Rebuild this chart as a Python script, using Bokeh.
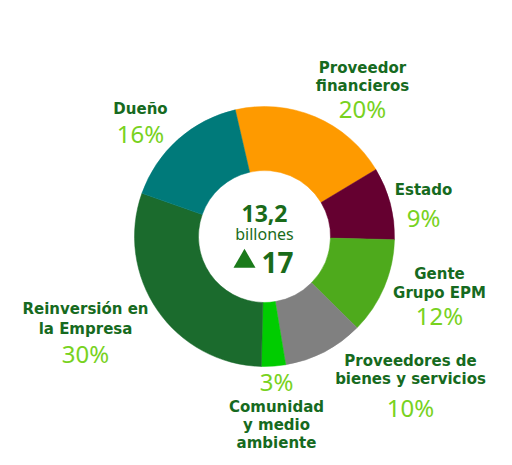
import math
from bokeh.plotting import figure
from bokeh.models import Range1d, ColumnDataSource
from bokeh.core.properties import value
from bokeh.embed import file_html
from bokeh.resources import INLINE

# ---- data ----
categories = ["Proveedor financieros", "Estado", "Gente Grupo EPM",
              "Proveedores de bienes y servicios", "Comunidad y medio ambiente",
              "Reinversión en la Empresa", "Dueño"]
shares = [20, 9, 12, 10, 3, 30, 16]
colors = ["#FE9A00", "#650030", "#4EAA1C", "#808080", "#00CC00", "#1B6B2D", "#007A7A"]
label_lines = [["Proveedor", "financieros"], ["Estado"], ["Gente", "Grupo EPM"],
               ["Proveedores de", "bienes y servicios"], ["Comunidad", "y medio", "ambiente"],
               ["Reinversión en", "la Empresa"], ["Dueño"]]
total_text = "13,2"
unit_text = "billones"
growth_text = "17"

# ---- layout (image pixel coords, y downward) ----
W, H = 496, 457
IMG_H = 465
cx, cy = 264, 236
r_in, r_out = 66, 130
start_deg = 103
# label anchor: (x, y of first line, line step, y of percent)
label_pos = [(362, 67, 18, 108), (423, 189, 18, 217), (439, 273, 19, 315),
             (410, 360, 18, 407), (276, 406, 18, 381), (85, 308, 20, 353),
             (140, 108, 18, 133)]

def fy(y):
    return IMG_H - y

p = figure(width=W, height=H, output_backend="svg", toolbar_location=None,
           x_range=Range1d(0, W), y_range=Range1d(IMG_H - H, IMG_H),
           min_border=0, match_aspect=False)
p.axis.visible = False
p.grid.visible = False
p.outline_line_color = None
p.background_fill_color = "white"
p.border_fill_color = "white"

tot = float(sum(shares))
starts, ends = [], []
cum = 0.0
for s in shares:
    a_end = math.radians(start_deg - cum / tot * 360)
    cum += s
    a_start = math.radians(start_deg - cum / tot * 360)
    starts.append(a_start)
    ends.append(a_end)

src = ColumnDataSource(dict(cat=categories, share=shares, color=colors,
                            start=starts, end=ends))
p.annular_wedge(x=cx, y=fy(cy), inner_radius=r_in, outer_radius=r_out,
                start_angle="start", end_angle="end", fill_color="color",
                line_color="color", line_width=0.5, source=src)

LBL = "#166A20"
PCT = "#78D21E"
FONT = "DejaVu Sans"

lx, ly, lt = [], [], []
px, py, pt = [], [], []
for lines, share, (x, y0, step, yp) in zip(label_lines, shares, label_pos):
    for i, ln in enumerate(lines):
        lx.append(x); ly.append(fy(y0 + i * step)); lt.append(ln)
    px.append(x); py.append(fy(yp)); pt.append(f"{share}%")

p.text(x=lx, y=ly, text=lt, text_font=value(FONT), text_font_size="15px",
       text_font_style="bold", text_color=LBL, text_align="center",
       text_baseline="middle")
p.text(x=px, y=py, text=pt, text_font=value("Noto Sans"), text_font_size="24px",
       text_color=PCT, text_align="center", text_baseline="middle")

# center text
p.text(x=[cx], y=[fy(213)], text=[total_text], text_font=value("Noto Sans"),
       text_font_size="23px", text_font_style="bold", text_color="#1A6B1A",
       text_align="center", text_baseline="middle")
p.text(x=[cx], y=[fy(233)], text=[unit_text], text_font=value("Noto Sans"),
       text_font_size="16px", text_color="#1A6B1A", text_align="center",
       text_baseline="middle")
p.scatter(x=[244], y=[fy(261)], marker="triangle", size=22,
          fill_color="#1A7A1A", line_color=None)
p.text(x=[261], y=[fy(262)], text=[growth_text], text_font=value("Noto Sans"),
       text_font_size="28px", text_font_style="bold", text_color="#1A6B1A",
       text_align="left", text_baseline="middle")

open("out.html", "w").write(file_html(p, INLINE))
